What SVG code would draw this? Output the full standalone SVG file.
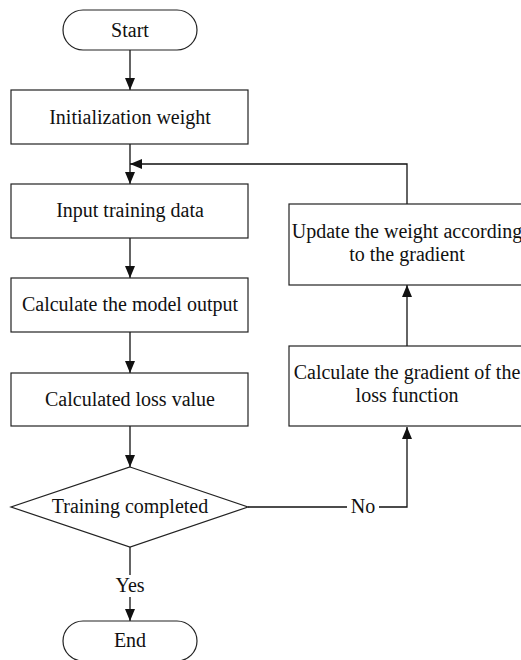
<svg xmlns="http://www.w3.org/2000/svg" width="521" height="660" viewBox="0 0 521 660">
<style>
.n{fill:#fff;stroke:#222;stroke-width:1.2}
.t{font-family:"Liberation Serif","Times New Roman",serif;font-size:20px;fill:#111;text-anchor:middle}
.c{fill:none;stroke:#111;stroke-width:1.3}
</style>
<defs>
<marker id="ah" viewBox="0 0 12 10" refX="12" refY="5" markerWidth="12" markerHeight="10" markerUnits="userSpaceOnUse" orient="auto"><path d="M0,0 L12,5 L0,10 Z" fill="#111"/></marker>
</defs>
<rect width="521" height="660" fill="#fff"/>
<g id="connectors">
<line class="c" x1="130" y1="50" x2="130" y2="90" marker-end="url(#ah)"/>
<line class="c" x1="130" y1="144" x2="130" y2="184" marker-end="url(#ah)"/>
<line class="c" x1="130" y1="238" x2="130" y2="278" marker-end="url(#ah)"/>
<line class="c" x1="130" y1="332" x2="130" y2="373" marker-end="url(#ah)"/>
<line class="c" x1="130" y1="426" x2="130" y2="467" marker-end="url(#ah)"/>
<line class="c" x1="130" y1="547" x2="130" y2="575"/>
<line class="c" x1="130" y1="597" x2="130" y2="621" marker-end="url(#ah)"/>
<polyline class="c" points="248,507 347,507"/>
<polyline class="c" points="379,507 407,507 407,427" marker-end="url(#ah)"/>
<line class="c" x1="407" y1="346" x2="407" y2="285" marker-end="url(#ah)"/>
<polyline class="c" points="407,204 407,164 130,164" marker-end="url(#ah)"/>
<text class="t" x="363" y="513">No</text>
<text class="t" x="130" y="592">Yes</text>
</g>
<g id="start"><rect class="n" x="63" y="10" width="134" height="40" rx="20"/><text class="t" x="130" y="37">Start</text></g>
<g id="init"><rect class="n" x="11" y="90" width="237" height="54"/><text class="t" x="130" y="124">Initialization weight</text></g>
<g id="input"><rect class="n" x="11" y="184" width="237" height="54"/><text class="t" x="130" y="217">Input training data</text></g>
<g id="model"><rect class="n" x="11" y="278" width="237" height="54"/><text class="t" x="130" y="311">Calculate the model output</text></g>
<g id="loss"><rect class="n" x="11" y="373" width="237" height="53"/><text class="t" x="130" y="406">Calculated loss value</text></g>
<g id="decision"><polygon class="n" points="130,467 248,507 130,547 11,507"/><text class="t" x="130" y="513">Training completed</text></g>
<g id="end"><rect class="n" x="63" y="621" width="134" height="40" rx="20"/><text class="t" x="130" y="647">End</text></g>
<g id="gradient"><rect class="n" x="289" y="346" width="236" height="80"/><text class="t" x="407" y="379">Calculate the gradient of the</text><text class="t" x="407" y="402">loss function</text></g>
<g id="update"><rect class="n" x="289" y="204" width="236" height="81"/><text class="t" x="407" y="238">Update the weight according</text><text class="t" x="407" y="261">to the gradient</text></g>
</svg>
